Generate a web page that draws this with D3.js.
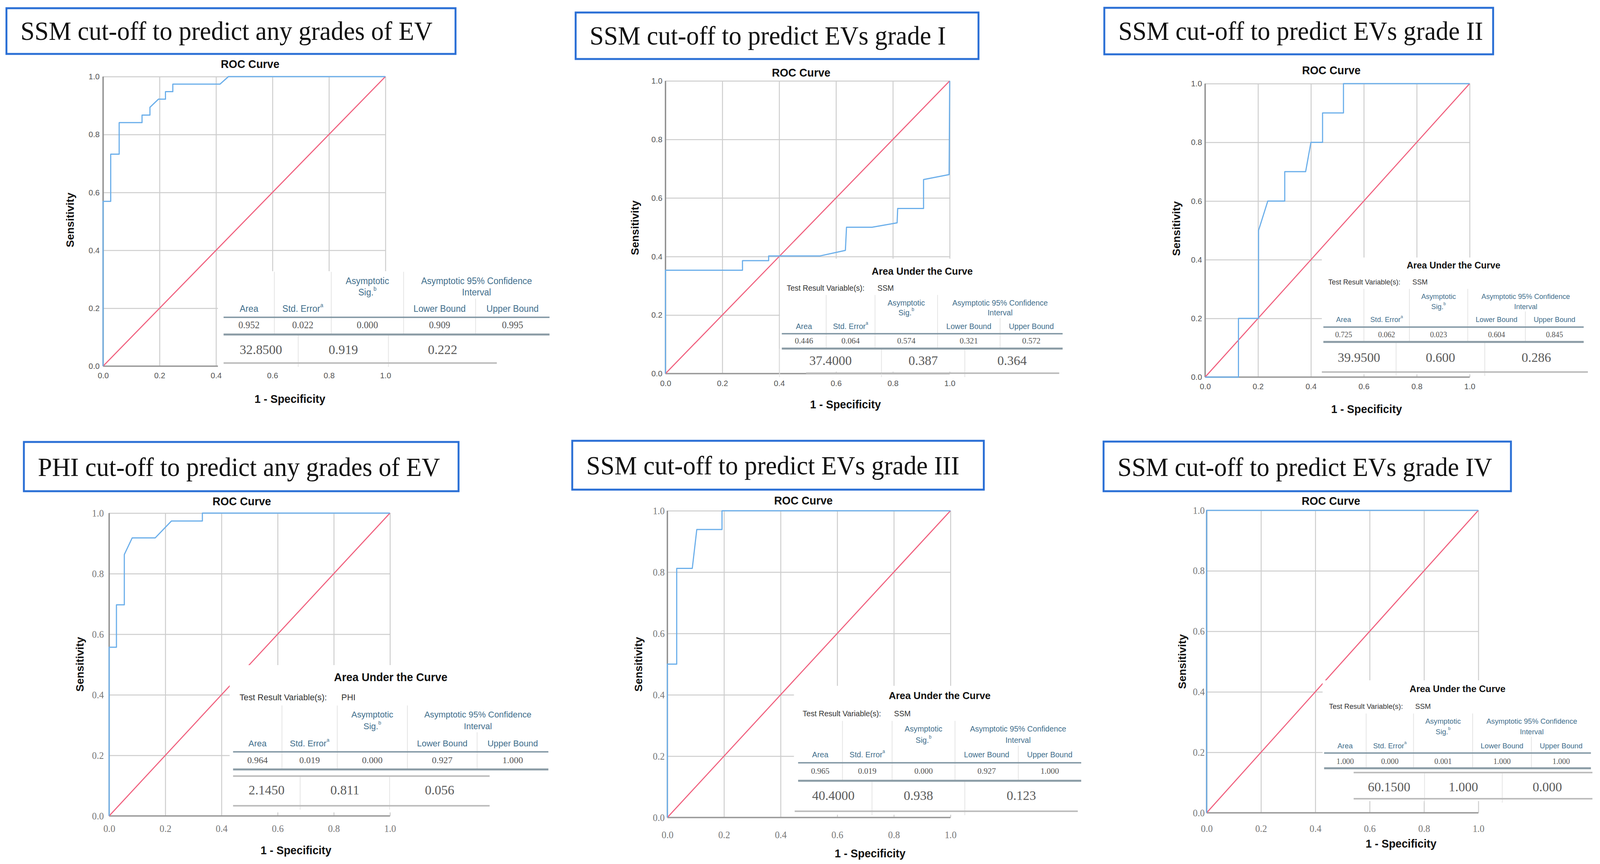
<!DOCTYPE html>
<html>
<head>
<meta charset="utf-8">
<script src="https://cdn.jsdelivr.net/npm/d3@7"></script>
<style>
  html, body { margin: 0; padding: 0; background: #fff; overflow: hidden; }
  svg { display: block; width: 100vw; height: 100vh; }
</style>
</head>
<body>
<script>
const Width = 4222
const Height = 2211
const sans = 'Liberation Sans, Arial, sans-serif'
const serif = 'Liberation Serif, Times New Roman, serif'

// ---- data ----
const panelTitles = [
    'SSM cut-off to predict any grades of EV',
    'SSM cut-off to predict EVs grade I',
    'SSM cut-off to predict EVs grade II',
    'PHI cut-off to predict any grades of EV',
    'SSM cut-off to predict EVs grade III',
    'SSM cut-off to predict EVs grade IV'
]
const tickValues = [0, 0.2, 0.4, 0.6, 0.8, 1.0]
const diagonal = [[0, 0], [1, 1]]

// [1 - specificity, sensitivity]
const roc1 = [[0,0],[0,0.569],[0.027,0.569],[0.027,0.732],[0.057,0.732],[0.057,0.841],[0.138,0.841],[0.138,0.867],
    [0.166,0.867],[0.166,0.894],[0.196,0.922],[0.221,0.922],[0.221,0.948],[0.247,0.948],[0.247,0.974],[0.414,0.974],[0.444,1],[1,1]]
const roc2 = [[0,0],[0,0.353],[0.271,0.353],[0.271,0.386],[0.363,0.386],[0.363,0.402],[0.544,0.402],[0.633,0.421],
    [0.637,0.5],[0.727,0.5],[0.815,0.515],[0.817,0.564],[0.908,0.564],[0.908,0.663],[0.998,0.68],[1,1]]
const roc3 = [[0,0],[0.126,0],[0.126,0.2],[0.202,0.2],[0.202,0.5],[0.237,0.6],[0.301,0.6],[0.301,0.7],[0.38,0.7],
    [0.4,0.8],[0.444,0.8],[0.444,0.9],[0.523,0.9],[0.523,1],[1,1]]
const roc4 = [[0,0],[0,0.557],[0.026,0.557],[0.026,0.697],[0.054,0.697],[0.054,0.863],[0.082,0.918],[0.164,0.918],
    [0.222,0.974],[0.332,0.974],[0.332,1],[1,1]]
const roc5 = [[0,0],[0,0.5],[0.033,0.5],[0.033,0.812],[0.088,0.812],[0.104,0.939],[0.193,0.939],[0.193,1],[1,1]]
const roc6 = [[0,0],[0,1],[1,1]]
const rocCurves = [roc1, roc2, roc3, roc4, roc5, roc6]

const testVariable = ['', 'SSM', 'SSM', 'PHI', 'SSM', 'SSM']
const aucArea = [0.952, 0.446, 0.725, 0.964, 0.965, 1.000]
const aucStdError = [0.022, 0.064, 0.062, 0.019, 0.019, 0.000]
const aucSig = [0.000, 0.574, 0.023, 0.000, 0.000, 0.001]
const aucLower = [0.909, 0.321, 0.604, 0.927, 0.927, 1.000]
const aucUpper = [0.995, 0.572, 0.845, 1.000, 1.000, 1.000]
const cutOff = [32.85, 37.4, 39.95, 2.145, 40.4, 60.15]
const cutSecond = [0.919, 0.387, 0.600, 0.811, 0.938, 1.000]
const cutThird = [0.222, 0.364, 0.286, 0.056, 0.123, 0.000]

// ---- layout (pixels) ----
const layout = [
    { box: [17, 21, 1202, 138], plot: [272, 196, 1017, 937], roc: [660, 164], yLab: [185, 563], xLab: [765, 1021],
      xTickDy: 24, yTickDx: 9, serifTicks: false, bg: [575, 694, 1460, 946],
      table: { cols: [590, 724, 874, 1065, 1255, 1450], title: null, test: null, testX: 0,
               asym: 719, sig: 748, area: 790, hline: 812, row: 831, thick: 856, row2: 894, bottom: 929,
               r2: [590, 787, 1025, 1311], r2top: 856, r2Left: false } },
    { box: [1519, 32, 2582, 151], plot: [1756, 207, 2506, 956], roc: [2114, 186], yLab: [1676, 583], xLab: [2231, 1035],
      xTickDy: 25, yTickDx: 8, serifTicks: false, bg: [2058, 662, 2812, 951],
      table: { cols: [2063, 2180, 2309, 2474, 2639, 2804], title: 694, test: 737, testX: 2076,
               asym: 775, sig: 800, area: 835, hline: 854, row: 872, thick: 892, row2: 922, bottom: 955,
               r2: [2127, 2326, 2546, 2795], r2top: 892, r2Left: true } },
    { box: [2914, 20, 3940, 139], plot: [3180, 214, 3878, 965], roc: [3513, 180], yLab: [3104, 585], xLab: [3606, 1047],
      xTickDy: 24, yTickDx: 8, serifTicks: false, bg: [3488, 659, 4195, 958],
      table: { cols: [3492, 3599, 3719, 3873, 4025, 4179], title: 679, test: 721, testX: 3505,
               asym: 758, sig: 784, area: 817, hline: 837, row: 856, thick: 875, row2: 914, bottom: 952,
               r2: [3488, 3684, 3918, 4190], r2top: 875, r2Left: false } },
    { box: [63, 1131, 1210, 1257], plot: [288, 1313, 1029, 2088], roc: [638, 1283], yLab: [211, 1700], xLab: [781, 2176],
      xTickDy: 32, yTickDx: 14, serifTicks: true, bg: [606, 1702, 1460, 2079],
      table: { cols: [615, 744, 890, 1075, 1259, 1447], title: 1733, test: 1784, testX: 632,
               asym: 1828, sig: 1858, area: 1902, hline: 1924, row: 1945, thick: 1969, row2: 2021, bottom: 2062,
               r2: [615, 792, 1028, 1292], r2top: 1986, r2Left: false } },
    { box: [1510, 1128, 2596, 1253], plot: [1761, 1307, 2508, 2092], roc: [2120, 1281], yLab: [1685, 1700], xLab: [2296, 2184],
      xTickDy: 44, yTickDx: 7, serifTicks: true, bg: [2095, 1755, 2860, 2085],
      table: { cols: [2106, 2223, 2354, 2520, 2687, 2853], title: 1780, test: 1826, testX: 2118,
               asym: 1865, sig: 1894, area: 1931, hline: 1952, row: 1973, thick: 1998, row2: 2035, bottom: 2076,
               r2: [2097, 2301, 2546, 2844], r2top: 1998, r2Left: false } },
    { box: [2912, 1130, 3987, 1257], plot: [3184, 1306, 3901, 2080], roc: [3512, 1282], yLab: [3120, 1693], xLab: [3697, 2159],
      xTickDy: 40, yTickDx: 5, serifTicks: true, bg: [3490, 1741, 4210, 2050],
      table: { cols: [3494, 3605, 3730, 3886, 4041, 4198], title: 1762, test: 1807, testX: 3507,
               asym: 1845, sig: 1872, area: 1908, hline: 1927, row: 1948, thick: 1966, row2: 2013, bottom: 2044,
               r2: [3572, 3759, 3964, 4202], r2top: 1977, r2Left: false } }
]

const fmt3 = d3.format('.3f')
const fmt4 = d3.format('.4f')

// fill the whole window with the 4222 x 2211 drawing
const svg = d3.select('body').append('svg')
    .attr('viewBox', `0 0 ${Width} ${Height}`)
    .attr('preserveAspectRatio', 'none')

svg.append('rect').attr('width', Width).attr('height', Height).attr('fill', '#fff')

layout.forEach((p, i) => {
    const g = svg.append('g')
    const [x0, yTop, x1, y0] = p.plot
    const x = d3.scaleLinear().domain([0, 1]).range([x0, x1])
    const y = d3.scaleLinear().domain([0, 1]).range([y0, yTop])

    // title box
    const [bx0, by0, bx1, by1] = p.box
    g.append('rect')
        .attr('x', bx0).attr('y', by0)
        .attr('width', bx1 - bx0).attr('height', by1 - by0)
        .attr('fill', 'none').attr('stroke', '#2a6fd5').attr('stroke-width', 5)
    g.append('text')
        .attr('x', bx0 + 37).attr('y', by0 + (by1 - by0) * 0.69)
        .attr('font-family', serif).attr('font-size', 67).attr('fill', '#111')
        .text(panelTitles[i])

    g.append('text')
        .attr('x', p.roc[0]).attr('y', p.roc[1])
        .attr('text-anchor', 'middle').attr('dominant-baseline', 'central')
        .attr('font-family', sans).attr('font-weight', 'bold').attr('font-size', 29).attr('fill', '#111')
        .text('ROC Curve')

    // gridlines
    g.append('g')
        .attr('transform', `translate(0,${y0})`)
        .call(d3.axisBottom(x).tickValues(tickValues).tickSize(-(y0 - yTop)).tickFormat(''))
        .call(a => a.select('.domain').remove())
        .selectAll('line').attr('stroke', '#cdcdcd').attr('stroke-width', 2.5)
    g.append('g')
        .attr('transform', `translate(${x0},0)`)
        .call(d3.axisLeft(y).tickValues(tickValues).tickSize(-(x1 - x0)).tickFormat(''))
        .call(a => a.select('.domain').remove())
        .selectAll('line').attr('stroke', '#cdcdcd').attr('stroke-width', 2.5)

    // axis lines
    g.append('line').attr('x1', x0).attr('x2', x0).attr('y1', yTop).attr('y2', y0)
        .attr('stroke', '#8e8e8e').attr('stroke-width', 3.5)
    g.append('line').attr('x1', x0).attr('x2', x1).attr('y1', y0).attr('y2', y0)
        .attr('stroke', '#9a9a9a').attr('stroke-width', 3.5)

    const line = d3.line().x(d => x(d[0])).y(d => y(d[1]))
    g.append('path').datum(diagonal).attr('d', line)
        .attr('fill', 'none').attr('stroke', '#f0607e').attr('stroke-width', 2.8)
    g.append('path').datum(rocCurves[i]).attr('d', line)
        .attr('fill', 'none').attr('stroke', '#6aaeea').attr('stroke-width', 3)
        .attr('stroke-linejoin', 'round')

    // tick labels
    const tfs = p.serifTicks ? 25 : 21
    const tff = p.serifTicks ? serif : sans
    const tcol = p.serifTicks ? '#777' : '#555'
    g.append('g')
        .attr('transform', `translate(0,${y0 + p.xTickDy - 0.36 * tfs})`)
        .call(d3.axisBottom(x).tickValues(tickValues).tickSize(0).tickPadding(0).tickFormat(d3.format('.1f')))
        .call(a => a.select('.domain').remove())
        .selectAll('text').attr('font-family', tff).attr('font-size', tfs).attr('fill', tcol)
    g.append('g')
        .attr('transform', `translate(${x0 - p.yTickDx},0)`)
        .call(d3.axisLeft(y).tickValues(tickValues).tickSize(0).tickPadding(0).tickFormat(d3.format('.1f')))
        .call(a => a.select('.domain').remove())
        .selectAll('text').attr('font-family', tff).attr('font-size', tfs).attr('fill', tcol)

    g.append('text')
        .attr('transform', `translate(${p.yLab[0]},${p.yLab[1]}) rotate(-90)`)
        .attr('text-anchor', 'middle').attr('dominant-baseline', 'central')
        .attr('font-family', sans).attr('font-weight', 'bold').attr('font-size', 28).attr('fill', '#111')
        .text('Sensitivity')
    g.append('text')
        .attr('x', p.xLab[0]).attr('y', p.xLab[1])
        .attr('text-anchor', 'middle').attr('dominant-baseline', 'central')
        .attr('font-family', sans).attr('font-weight', 'bold').attr('font-size', 29).attr('fill', '#111')
        .text('1 - Specificity')

    // pasted table covers part of the plot
    const [gx0, gy0, gx1, gy1] = p.bg
    g.append('rect').attr('x', gx0).attr('y', gy0).attr('width', gx1 - gx0).attr('height', gy1 - gy0)
        .attr('fill', '#fff')

    drawTable(g.append('g'), p.table, i)
})

function drawTable(g, t, i) {
    const c = t.cols
    const w = c[5] - c[0]
    const hf = w * 0.0272
    const df = w * 0.029
    const mid = k => (c[k] + c[k + 1]) / 2
    const hdr = '#3f6e8c'

    // column separators
    const seps = [[c[1], t.asym - hf], [c[2], t.asym - hf], [c[3], t.asym - hf], [c[4], t.sig + hf * 0.7]]
    g.selectAll('line.sep').data(seps).join('line').attr('class', 'sep')
        .attr('x1', d => d[0]).attr('x2', d => d[0])
        .attr('y1', d => d[1]).attr('y2', t.thick)
        .attr('stroke', '#e4e4e4').attr('stroke-width', 2)
    const r2seps = t.r2Left ? [c[0] - 6, t.r2[1], t.r2[2]] : [t.r2[1], t.r2[2]]
    g.selectAll('line.sep2').data(r2seps).join('line').attr('class', 'sep2')
        .attr('x1', d => d).attr('x2', d => d)
        .attr('y1', t.r2top).attr('y2', t.bottom + 10)
        .attr('stroke', '#e4e4e4').attr('stroke-width', 2)

    if (t.title !== null) {
        g.append('text').attr('x', (c[0] + c[5]) / 2).attr('y', t.title)
            .attr('text-anchor', 'middle').attr('dominant-baseline', 'central')
            .attr('font-family', sans).attr('font-weight', 'bold').attr('font-size', w * 0.035).attr('fill', '#111')
            .text('Area Under the Curve')
        g.append('text').attr('x', t.testX).attr('y', t.test)
            .attr('dominant-baseline', 'central')
            .attr('font-family', sans).attr('font-size', w * 0.027).attr('fill', '#333')
            .text('Test Result Variable(s):')
        g.append('text').attr('x', t.testX + w * 0.323).attr('y', t.test)
            .attr('dominant-baseline', 'central')
            .attr('font-family', sans).attr('font-size', w * 0.027).attr('fill', '#333')
            .text(testVariable[i])
    }

    const headText = (xx, yy, txt, sup) => {
        const el = g.append('text').attr('x', xx).attr('y', yy)
            .attr('text-anchor', 'middle').attr('dominant-baseline', 'central')
            .attr('font-family', sans).attr('font-size', hf).attr('fill', hdr)
            .text(txt)
        if (sup) el.append('tspan').attr('dy', -hf * 0.4).attr('font-size', hf * 0.6).text(sup)
    }
    headText(mid(0), t.area, 'Area')
    headText(mid(1), t.area, 'Std. Error', 'a')
    headText(mid(2), t.asym, 'Asymptotic')
    headText(mid(2), t.sig, 'Sig.', 'b')
    headText((c[3] + c[5]) / 2, t.asym, 'Asymptotic 95% Confidence')
    headText((c[3] + c[5]) / 2, t.sig, 'Interval')
    headText(mid(3), t.area, 'Lower Bound')
    headText(mid(4), t.area, 'Upper Bound')

    g.append('line').attr('x1', c[0]).attr('x2', c[5]).attr('y1', t.hline).attr('y2', t.hline)
        .attr('stroke', '#7f95a2').attr('stroke-width', 3.5)

    const rowVals = [aucArea[i], aucStdError[i], aucSig[i], aucLower[i], aucUpper[i]]
    g.selectAll('text.val').data(rowVals).join('text').attr('class', 'val')
        .attr('x', (d, k) => mid(k)).attr('y', t.row)
        .attr('text-anchor', 'middle').attr('dominant-baseline', 'central')
        .attr('font-family', serif).attr('font-size', df).attr('fill', '#555')
        .text(d => fmt3(d))

    g.append('line').attr('x1', c[0]).attr('x2', c[5]).attr('y1', t.thick).attr('y2', t.thick)
        .attr('stroke', '#8a9ba5').attr('stroke-width', 5)

    const r = t.r2
    if (t.r2top !== t.thick) {
        g.append('line').attr('x1', r[0]).attr('x2', r[3]).attr('y1', t.r2top).attr('y2', t.r2top)
            .attr('stroke', '#bdbdbd').attr('stroke-width', 4)
    }
    const r2x0 = t.r2Left ? c[0] - 6 : r[0]
    const row2Vals = [fmt4(cutOff[i]), fmt3(cutSecond[i]), fmt3(cutThird[i])]
    g.selectAll('text.val2').data(row2Vals).join('text').attr('class', 'val2')
        .attr('x', (d, k) => ((k === 0 ? r2x0 : r[k]) + r[k + 1]) / 2).attr('y', t.row2)
        .attr('text-anchor', 'middle').attr('dominant-baseline', 'central')
        .attr('font-family', serif).attr('font-size', 34.5).attr('fill', '#5a5a5a')
        .text(d => d)
    g.append('line').attr('x1', r[0]).attr('x2', r[3]).attr('y1', t.bottom).attr('y2', t.bottom)
        .attr('stroke', '#bdbdbd').attr('stroke-width', 4)
}
</script>
</body>
</html>
